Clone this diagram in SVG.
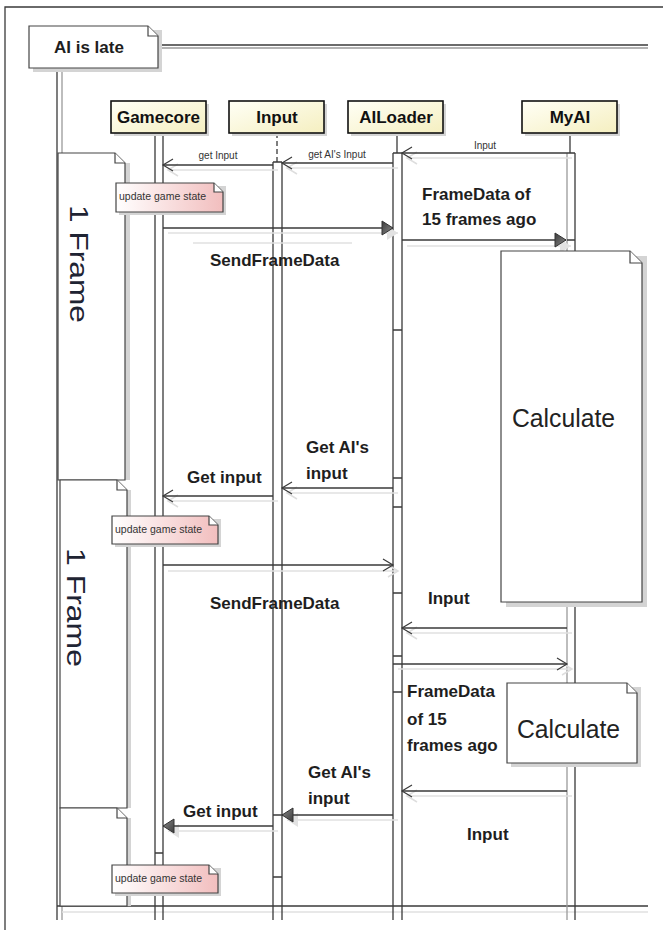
<svg xmlns="http://www.w3.org/2000/svg" width="663" height="930" viewBox="0 0 663 930">
<defs>
<linearGradient id="hdrG" x1="0" y1="0" x2="1" y2="1"><stop offset="0" stop-color="#fffff6"/><stop offset="1" stop-color="#f5efc0"/></linearGradient>
<linearGradient id="noteG" x1="0" y1="0" x2="1" y2="0"><stop offset="0" stop-color="#ffffff"/><stop offset="1" stop-color="#f2bebe"/></linearGradient>
<linearGradient id="arrG" x1="0" y1="0" x2="1" y2="1"><stop offset="0" stop-color="#3c3c3c"/><stop offset="1" stop-color="#8a8a8a"/></linearGradient>
<marker id="open" markerUnits="userSpaceOnUse" markerWidth="14" markerHeight="14" viewBox="0 0 14 14" refX="12" refY="7" orient="auto"><path d="M2,1 L12,7 L2,13" fill="none" stroke="#3a3a3a" stroke-width="1.2"/></marker>
<marker id="openSh" markerUnits="userSpaceOnUse" markerWidth="14" markerHeight="14" viewBox="0 0 14 14" refX="12" refY="7" orient="auto"><path d="M2,1 L12,7 L2,13" fill="none" stroke="#dedede" stroke-width="1.5"/></marker>
<marker id="solid" markerUnits="userSpaceOnUse" markerWidth="14" markerHeight="16" viewBox="0 0 14 16" refX="13" refY="8" orient="auto"><path d="M2,1 L13,8 L2,15 Z" fill="url(#arrG)" stroke="#333" stroke-width="1"/></marker>
<marker id="solidSh" markerUnits="userSpaceOnUse" markerWidth="14" markerHeight="16" viewBox="0 0 14 16" refX="13" refY="8" orient="auto"><path d="M2,1 L13,8 L2,15 Z" fill="#e2e2e2"/></marker>
</defs>
<style>
.ln{stroke:#3a3a3a;stroke-width:1.3;fill:none}
.gl{stroke:#9a9a9a;stroke-width:1.3;fill:none}
.sh{stroke:#e0e0e0;stroke-width:1.5;fill:none}
.shf{fill:#d4d4d4}
.msg{stroke:#3a3a3a;stroke-width:1.3;fill:none}
.mo{marker-end:url(#open)}
.ms{marker-end:url(#solid)}
.so{marker-end:url(#openSh)}
.ss{marker-end:url(#solidSh)}
.hdr{fill:url(#hdrG);stroke:#111;stroke-width:1.6}
.hdrt{font-family:"Liberation Sans",Arial,sans-serif;font-weight:bold;font-size:17px;fill:#111;text-anchor:middle}
.lbl{font-family:"Liberation Sans",Arial,sans-serif;font-weight:bold;font-size:17px;fill:#1e1e1e}
.sm{font-family:"Liberation Sans",Arial,sans-serif;font-size:10px;fill:#333}
.nt{fill:#fff;stroke:#444;stroke-width:1.2}
.ntp{fill:url(#noteG);stroke:#444;stroke-width:1.2}
.ntt{font-family:"Liberation Sans",Arial,sans-serif;font-size:10.5px;fill:#333}
.big{font-family:"Liberation Sans",Arial,sans-serif;font-size:26px;fill:#222}
.frm{font-family:"Liberation Sans",Arial,sans-serif;font-size:25px;fill:#1f2433}
</style>
<rect width="663" height="930" fill="#fff"/>
<!-- outer border -->
<path class="ln" d="M5,930 V7 H663" stroke-width="1.6"/>
<!-- combined fragment frame -->
<g id="frame">
<path class="ln" d="M158,45 H648"/>
<path class="gl" d="M158,48 H648"/>
<path class="ln" d="M57,68 V920"/>
<path class="gl" d="M62,72 V920"/>
<path class="ln" d="M57,906 H648"/>
<path class="sh" d="M62,912 H648"/>
<rect class="shf" x="33" y="30" width="129" height="42"/>
<path class="nt" d="M29,26 H148 L158,36 V68 H29 Z"/>
<path class="nt" d="M148,26 V36 H158" fill="none"/>
<text class="lbl" x="54" y="53">AI is late</text>
</g>
<!-- lifelines -->
<g id="lifelines">
<path class="ln" d="M155,133 V920 M163,133 V920 M155,853 H163"/>
<path class="ln" d="M277,133 V162" stroke-dasharray="5,3"/>
<path class="ln" d="M273,162 H282 M273,162 V920 M282,162 V920 M273,815 H282 M273,877 H282"/>
<path class="ln" d="M397,133 V153"/>
<path class="ln" d="M393,153 H402 M393,153 V920 M402,153 V920 M393,330 H402 M393,478 H402 M393,507 H402 M393,593 H402 M393,656 H402 M393,692 H402"/>
<path class="ln" d="M570,133 V153"/>
<path class="gl" d="M567,153 V920"/>
<path class="ln" d="M567,153 H575 M575,153 V920 M567,240 H575"/>
</g>
<!-- headers -->
<g id="Gamecore"><rect class="shf" x="114" y="104" width="95" height="32"/><rect class="hdr" x="111" y="101" width="95" height="32"/><text class="hdrt" x="158.5" y="123">Gamecore</text></g>
<g id="Input"><rect class="shf" x="232" y="104" width="95" height="32"/><rect class="hdr" x="229" y="101" width="95" height="32"/><text class="hdrt" x="277" y="123">Input</text></g>
<g id="AILoader"><rect class="shf" x="351" y="104" width="95" height="32"/><rect class="hdr" x="348" y="101" width="95" height="32"/><text class="hdrt" x="396" y="123">AILoader</text></g>
<g id="MyAI"><rect class="shf" x="525" y="104" width="95" height="32"/><rect class="hdr" x="522" y="101" width="95" height="32"/><text class="hdrt" x="570" y="123">MyAI</text></g>
<!-- connectors -->
<g id="connectors">
<path class="sh so" d="M572,158 H407"/>
<path class="msg mo" d="M567,153 H402"/>
<path class="sh so" d="M398,168 H287"/>
<path class="msg mo" d="M393,163 H282"/>
<path class="sh so" d="M278,170 H168"/>
<path class="msg mo" d="M273,165 H163"/>
<path class="sh ss" d="M168,233 H398"/>
<path class="sh" d="M193,243 H352"/>
<path class="msg ms" d="M163,228 H393"/>
<path class="sh ss" d="M407,246 H571"/>
<path class="msg ms" d="M402,240 H566"/>
<path class="sh so" d="M398,493 H287"/>
<path class="msg mo" d="M393,488 H282"/>
<path class="sh so" d="M278,501 H168"/>
<path class="msg mo" d="M273,496 H163"/>
<path class="sh so" d="M168,571 H398"/>
<path class="msg mo" d="M163,565 H393"/>
<path class="sh so" d="M572,633 H407"/>
<path class="msg mo" d="M567,628 H402"/>
<path class="sh so" d="M398,669 H572"/>
<path class="msg mo" d="M393,664 H567"/>
<path class="sh so" d="M572,796 H407"/>
<path class="msg mo" d="M567,791 H402"/>
<path class="sh ss" d="M398,820 H287"/>
<path class="msg ms" d="M393,815 H282"/>
<path class="sh ss" d="M278,831 H168"/>
<path class="msg ms" d="M273,826 H163"/>
<text class="sm" x="485" y="149" text-anchor="middle">Input</text>
<text class="sm" x="337" y="158" text-anchor="middle">get AI's Input</text>
<text class="sm" x="218" y="159" text-anchor="middle">get Input</text>
<text class="lbl" x="210" y="266">SendFrameData</text>
<text class="lbl" x="422" y="200">FrameData of</text>
<text class="lbl" x="422" y="225">15 frames ago</text>
<text class="lbl" x="306" y="453">Get AI's</text>
<text class="lbl" x="306" y="479">input</text>
<text class="lbl" x="187" y="483">Get input</text>
<text class="lbl" x="210" y="609">SendFrameData</text>
<text class="lbl" x="428" y="604">Input</text>
<text class="lbl" x="407" y="697">FrameData</text>
<text class="lbl" x="407" y="725">of 15</text>
<text class="lbl" x="407" y="751">frames ago</text>
<text class="lbl" x="308" y="778">Get AI's</text>
<text class="lbl" x="308" y="804">input</text>
<text class="lbl" x="183" y="817">Get input</text>
<text class="lbl" x="467" y="840">Input</text>
</g>
<!-- frame notes -->
<g id="frameNote1">
<rect class="shf" x="125" y="163" width="5" height="317"/>
<path class="nt" d="M58,153 H115 L125,163 V480 H58 Z"/>
<path class="nt" d="M115,153 V163 H125" fill="none"/>
<text class="frm" transform="translate(70,205) rotate(90)" textLength="118" lengthAdjust="spacingAndGlyphs">1 Frame</text>
</g>
<g id="frameNote2">
<rect class="shf" x="127" y="490" width="4" height="318"/>
<path class="nt" d="M60,480 H117 L127,490 V808 H60 Z"/>
<path class="nt" d="M117,480 V490 H127" fill="none"/>
<text class="frm" transform="translate(67,548) rotate(90)" textLength="119" lengthAdjust="spacingAndGlyphs">1 Frame</text>
</g>
<g id="frameNote3">
<rect class="shf" x="127" y="818" width="4" height="88"/>
<path class="nt" d="M60,808 H117 L127,818 V906 H60 Z"/>
<path class="nt" d="M117,808 V818 H127" fill="none"/>
</g>
<!-- update notes -->
<g id="update1">
<rect class="shf" x="119" y="186" width="107" height="29"/>
<path class="ntp" d="M116,183 H214 L223,192 V212 H116 Z"/>
<path class="nt" d="M214,183 V192 H223" fill="none"/>
<text class="ntt" x="119" y="200">update game state</text>
</g>
<g id="update2">
<rect class="shf" x="115" y="519" width="106" height="28"/>
<path class="ntp" d="M112,516 H209 L218,525 V544 H112 Z"/>
<path class="nt" d="M209,516 V525 H218" fill="none"/>
<text class="ntt" x="115" y="533">update game state</text>
</g>
<g id="update3">
<rect class="shf" x="115" y="868" width="106" height="28"/>
<path class="ntp" d="M112,865 H209 L218,874 V893 H112 Z"/>
<path class="nt" d="M209,865 V874 H218" fill="none"/>
<text class="ntt" x="115" y="882">update game state</text>
</g>
<!-- calculate notes -->
<g id="calc1">
<rect class="shf" x="506" y="256" width="141" height="351"/>
<path class="nt" d="M501,251 H630 L642,263 V602 H501 Z"/>
<path class="nt" d="M630,251 V263 H642" fill="none"/>
<text class="big" x="512" y="427" textLength="103" lengthAdjust="spacingAndGlyphs">Calculate</text>
</g>
<g id="calc2">
<rect class="shf" x="511" y="687" width="130" height="80"/>
<path class="nt" d="M507,683 H627 L637,693 V763 H507 Z"/>
<path class="nt" d="M627,683 V693 H637" fill="none"/>
<text class="big" x="517" y="738" textLength="103" lengthAdjust="spacingAndGlyphs">Calculate</text>
</g>
</svg>
